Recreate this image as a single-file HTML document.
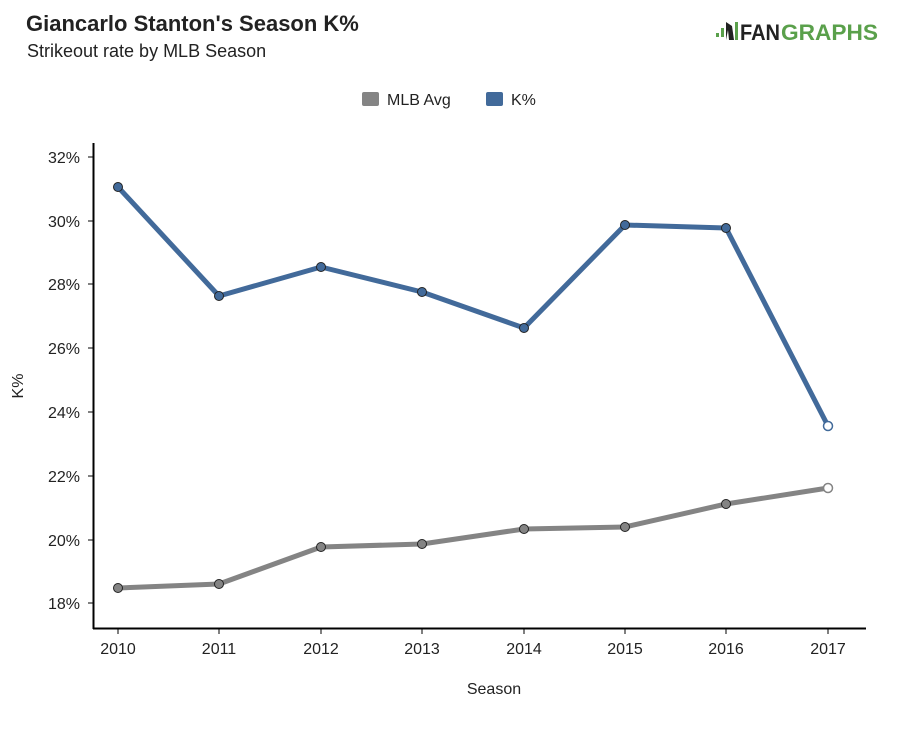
<!DOCTYPE html>
<html><head><style>
body{margin:0;background:#fff;width:900px;height:724px;overflow:hidden}
svg text{font-family:"Liberation Sans",sans-serif}
</style></head><body>
<svg width="900" height="724" xmlns="http://www.w3.org/2000/svg">
<text x="26" y="31" font-size="22" font-weight="bold" fill="#222">Giancarlo Stanton's Season K%</text>
<text x="27" y="57" font-size="18" fill="#222">Strikeout rate by MLB Season</text>
<g>
<rect x="716" y="33" width="3" height="4" fill="#5aa04b"/>
<rect x="721" y="28" width="3" height="9" fill="#5aa04b"/>
<path d="M726 22 L732 26 L734 40 L729 40 L728 30 L726 40 Z" fill="#222"/>
<rect x="735" y="22" width="3" height="18" fill="#5aa04b"/>
<text x="740" y="40" font-size="22" font-weight="bold" fill="#222" textLength="40" lengthAdjust="spacingAndGlyphs">FAN</text>
<text x="781" y="40" font-size="22" font-weight="bold" fill="#5aa04b" textLength="97" lengthAdjust="spacingAndGlyphs">GRAPHS</text>
</g>
<rect x="362" y="92" width="17" height="14" rx="2" fill="#848484"/>
<text x="387" y="105" font-size="16" fill="#222">MLB Avg</text>
<rect x="486" y="92" width="17" height="14" rx="2" fill="#426a9a"/>
<text x="511" y="105" font-size="16" fill="#222">K%</text>
<line x1="93.5" y1="143" x2="93.5" y2="629" stroke="#000" stroke-width="2"/>
<line x1="93" y1="628.5" x2="866" y2="628.5" stroke="#000" stroke-width="2"/>
<g stroke="#000" stroke-width="1">
<line x1="88" y1="157" x2="93" y2="157"/><line x1="88" y1="221" x2="93" y2="221"/>
<line x1="88" y1="284" x2="93" y2="284"/><line x1="88" y1="348" x2="93" y2="348"/>
<line x1="88" y1="412" x2="93" y2="412"/><line x1="88" y1="476" x2="93" y2="476"/>
<line x1="88" y1="540" x2="93" y2="540"/><line x1="88" y1="603" x2="93" y2="603"/>
<line x1="118" y1="629" x2="118" y2="634"/><line x1="219" y1="629" x2="219" y2="634"/>
<line x1="321" y1="629" x2="321" y2="634"/><line x1="422" y1="629" x2="422" y2="634"/>
<line x1="524" y1="629" x2="524" y2="634"/><line x1="625" y1="629" x2="625" y2="634"/>
<line x1="726" y1="629" x2="726" y2="634"/><line x1="828" y1="629" x2="828" y2="634"/>
</g>
<g font-size="16" fill="#222" text-anchor="end">
<text x="80" y="163">32%</text><text x="80" y="227">30%</text><text x="80" y="290">28%</text>
<text x="80" y="354">26%</text><text x="80" y="418">24%</text><text x="80" y="482">22%</text>
<text x="80" y="546">20%</text><text x="80" y="609">18%</text>
</g>
<g font-size="16" fill="#222" text-anchor="middle">
<text x="118" y="654">2010</text><text x="219" y="654">2011</text><text x="321" y="654">2012</text>
<text x="422" y="654">2013</text><text x="524" y="654">2014</text><text x="625" y="654">2015</text>
<text x="726" y="654">2016</text><text x="828" y="654">2017</text>
<text x="494" y="694">Season</text>
</g>
<text transform="translate(23,386) rotate(-90)" font-size="16" fill="#222" text-anchor="middle">K%</text>
<polyline points="118,588 219,584 321,547 422,544 524,529 625,527 726,504 828,488" fill="none" stroke="#848484" stroke-width="5" stroke-linejoin="round"/>
<polyline points="118,187 219,296 321,267 422,292 524,328 625,225 726,228 828,426" fill="none" stroke="#426a9a" stroke-width="5" stroke-linejoin="round"/>
<g stroke="#222" stroke-width="1" fill="#848484">
<circle cx="118" cy="588" r="4.5"/><circle cx="219" cy="584" r="4.5"/><circle cx="321" cy="547" r="4.5"/>
<circle cx="422" cy="544" r="4.5"/><circle cx="524" cy="529" r="4.5"/><circle cx="625" cy="527" r="4.5"/>
<circle cx="726" cy="504" r="4.5"/>
</g>
<circle cx="828" cy="488" r="4.5" fill="#fff" stroke="#848484" stroke-width="1.5"/>
<g stroke="#222" stroke-width="1" fill="#426a9a">
<circle cx="118" cy="187" r="4.5"/><circle cx="219" cy="296" r="4.5"/><circle cx="321" cy="267" r="4.5"/>
<circle cx="422" cy="292" r="4.5"/><circle cx="524" cy="328" r="4.5"/><circle cx="625" cy="225" r="4.5"/>
<circle cx="726" cy="228" r="4.5"/>
</g>
<circle cx="828" cy="426" r="4.5" fill="#fff" stroke="#426a9a" stroke-width="1.5"/>
</svg>
</body></html>
